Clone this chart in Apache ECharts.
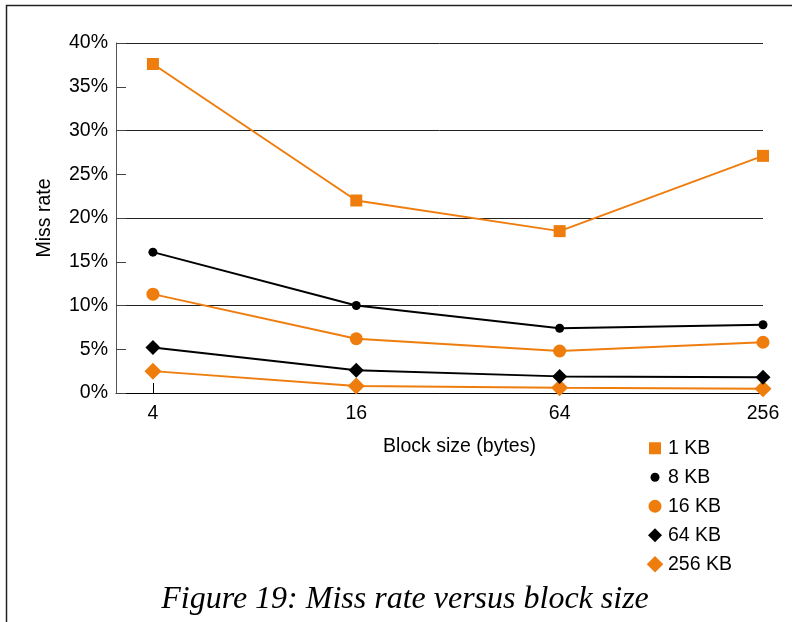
<!DOCTYPE html>
<html><head><meta charset="utf-8">
<script src="https://cdn.jsdelivr.net/npm/echarts@6/dist/echarts.min.js"></script>
<style>html,body{margin:0;padding:0;background:#fff}#c{width:792px;height:622px}</style>
</head><body><div id="c"></div>
<script>
const blockSizes = [4, 16, 64, 256];
const seriesNames = ['1 KB', '8 KB', '16 KB', '64 KB', '256 KB'];
const kb1 = [37.6, 22.0, 18.5, 27.1];
const kb8 = [16.1, 10.0, 7.4, 7.8];
const kb16 = [11.3, 6.2, 4.8, 5.8];
const kb64 = [5.2, 2.6, 1.9, 1.8];
const kb256 = [2.5, 0.8, 0.6, 0.5];
const yTicks = [0, 5, 10, 15, 20, 25, 30, 35, 40];

const ORANGE = '#ee7d0e';
const FS = 19.5;
const values = [kb1, kb8, kb16, kb64, kb256];
const styles = [
  {color: ORANGE, symbol: 'rect', size: 12, legend: 12},
  {color: '#000', symbol: 'circle', size: 9, legend: 9},
  {color: ORANGE, symbol: 'circle', size: 13, legend: 13},
  {color: '#000', symbol: 'diamond', size: 15, legend: 14},
  {color: ORANGE, symbol: 'diamond', size: 17, legend: 16.5}
];
const series = values.map((v, i) => ({
  name: seriesNames[i], type: 'line', xAxisIndex: 0, yAxisIndex: 0,
  data: v.map((y, j) => [blockSizes[j], y]),
  symbol: styles[i].symbol, symbolSize: styles[i].size,
  lineStyle: {color: styles[i].color, width: 2},
  itemStyle: {color: styles[i].color},
  z: 10 - i
}));
const legendRowsY = [441, 470, 499, 528, 557];
const legends = seriesNames.map((n, i) => {
  const w = styles[i].legend;
  return {
    data: [{name: n, icon: styles[i].symbol}],
    left: 655 - w / 2,
    top: legendRowsY[i] + 8 - FS / 2 - 1,
    itemWidth: w, itemHeight: w,
    itemGap: 0, padding: 0,
    textStyle: {fontFamily: 'Liberation Sans', fontSize: FS, color: '#000',
      padding: [0, 0, 0, 668 - (655 + w / 2) - 5]},
    selectedMode: false
  };
});

const chart = echarts.init(document.getElementById('c'));
chart.setOption({
  animation: false,
  backgroundColor: '#fff',
  grid: {left: 116, right: 29, top: 43, bottom: 229, containLabel: false},
  legend: legends,
  xAxis: [{
    type: 'log', logBase: 4, min: 3.11, max: 256,
    name: 'Block size (bytes)', nameLocation: 'middle', nameGap: 44,
    nameTextStyle: {fontFamily: 'Liberation Sans', fontSize: FS, color: '#000', padding: [0, 0, 0, 40]},
    axisLine: {lineStyle: {color: '#000', width: 1}},
    axisTick: {inside: true, length: 10, lineStyle: {color: '#000'}},
    axisLabel: {showMinLabel: false, fontFamily: 'Liberation Sans', fontSize: FS, color: '#000', margin: 11,
      formatter: v => String(Math.round(v))},
    splitLine: {show: false}
  }],
  yAxis: [{
    type: 'value', min: 0, max: 40, interval: 5,
    name: 'Miss rate', nameLocation: 'middle', nameGap: 61, nameRotate: 90,
    nameTextStyle: {fontFamily: 'Liberation Sans', fontSize: FS, color: '#000'},
    axisLine: {show: true, lineStyle: {color: '#555', width: 1}},
    axisTick: {show: true, inside: true, length: 10, lineStyle: {color: '#444'}},
    axisLabel: {fontFamily: 'Liberation Sans', fontSize: FS, color: '#000', margin: 8,
      formatter: v => v + '%'},
    splitLine: {show: false}
  }, {
    type: 'value', min: 0, max: 40, interval: 10, position: 'left',
    axisLine: {show: false}, axisTick: {show: false}, axisLabel: {show: false},
    splitLine: {show: true, lineStyle: {color: '#222', width: 1}}
  }],
  series: series,
  graphic: [
    {type: 'rect', shape: {x: 6.5, y: 5.5, width: 900, height: 800}, style: {fill: null, stroke: '#222', lineWidth: 1.5}, silent: true},
    {type: 'text', x: 405, y: 600,
     style: {text: 'Figure 19: Miss rate versus block size', font: 'italic 32px "Liberation Serif"', fill: '#000',
       align: 'center', verticalAlign: 'middle'}}
  ]
});
</script></body></html>
